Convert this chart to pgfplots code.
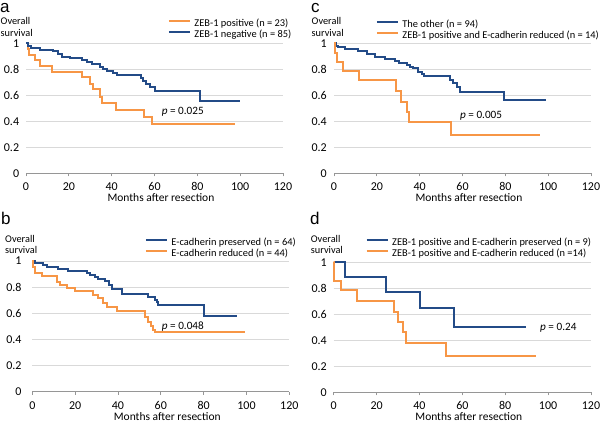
\documentclass[border=0pt]{standalone}
\usepackage{fontspec}
\setmainfont{Carlito}
\newfontfamily\arialfont{Liberation Sans}
\usepackage{pgfplots}
\pgfplotsset{compat=1.18}
\definecolor{kmorange}{RGB}{247,150,70}
\definecolor{kmblue}{RGB}{35,75,135}
\definecolor{gridgray}{RGB}{217,217,217}
\definecolor{axgray}{RGB}{150,150,150}
\pgfplotsset{
 kmaxis/.style={
  scale only axis, width=257bp, height=130bp, anchor=south west,
  xmin=0,xmax=120,ymin=0,ymax=1,
  axis x line*=bottom, axis y line*=left,
  y axis line style={draw=none},
  x axis line style={axgray, line width=0.8bp},
  xtick={0,20,40,60,80,100,120}, ytick={0,0.2,0.4,0.6,0.8,1},
  xtick align=outside, ytick align=inside,
  xtick style={axgray, line width=0.8bp},
  major tick length=3bp,
  ytick style={draw=none},
  ymajorgrids, grid style={gridgray, line width=0.8bp},
  /pgf/number format/assume math mode=true,
  ticklabel style={font=\fontsize{12bp}{14bp}\selectfont},
  xticklabel style={anchor=base, inner sep=0pt, yshift=-14.3bp},
  yticklabel style={anchor=east, inner sep=0pt},
  xlabel={Months after resection},
  xlabel style={at={(rel axis cs:0.525,0)}, anchor=base, yshift=-28.3bp, inner sep=0pt, font=\fontsize{11.5bp}{14bp}\selectfont},
  clip=false,
  legend cell align=left,
  legend style={draw=none, fill=none, inner sep=0pt, outer sep=0pt, row sep=1.6bp, column sep=3.5bp, anchor=north west,
    font=\fontsize{10.4bp}{12bp}\selectfont, nodes={inner sep=0pt, text height=7.5bp, text depth=2.5bp}},
  legend image code/.code={\draw[#1, line width=2bp] (0bp,3bp) -- (21bp,3bp);},
  every axis plot/.append style={const plot, line width=2bp, mark=none},
 }
}
\begin{document}
\begin{tikzpicture}
\useasboundingbox (0,0) rectangle (600bp,422bp);
% ---------------- panel a
\begin{axis}[kmaxis, at={(26bp,248.7bp)},
  yticklabel style={xshift=-6.7bp},
  legend style={at={(rel axis cs:0.5525,1.188)}}]
\addplot[kmorange] coordinates {(0,1)(0.8,0.957)(1.6,0.913)(4.2,0.870)(6.5,0.826)(12.3,0.783)(26,0.739)(29.9,0.69)(31.4,0.646)(34.5,0.59)(35.3,0.538)(42,0.49)(55.1,0.436)(58.7,0.38)(97.6,0.38)};
\addlegendentry{ZEB-1 positive (n = 23)}
\addplot[kmblue] coordinates {(0,1)(1.1,0.976)(2.2,0.964)(6.5,0.952)(12.8,0.941)(15.1,0.915)(16.7,0.897)(20.5,0.885)(26,0.872)(28.3,0.859)(30.7,0.838)(34.5,0.82)(36.1,0.80)(37.7,0.787)(40.8,0.77)(42.3,0.756)(53.5,0.73)(54.5,0.71)(56,0.69)(58,0.665)(60,0.636)(81.2,0.553)(99.9,0.553)};
\addlegendentry{ZEB-1 negative (n = 85)}
\node[anchor=base west, inner sep=0pt, font=\fontsize{11.2bp}{13bp}\selectfont] at (axis cs:63.3,0.454) {\textit{p} = 0.025};
\end{axis}
% ---------------- panel c
\begin{axis}[kmaxis, at={(334bp,248.7bp)},
  yticklabel style={xshift=-7bp},
  legend style={at={(rel axis cs:0.163,1.183)}}]
\addplot[kmblue] coordinates {(0,1)(1,0.979)(1.7,0.968)(5.1,0.955)(11.4,0.94)(15.3,0.915)(19.1,0.897)(23.8,0.88)(28.5,0.86)(30.5,0.852)(32.4,0.846)(34,0.833)(35.5,0.82)(37,0.81)(39.4,0.78)(40.9,0.76)(42,0.749)(54.2,0.718)(55.7,0.692)(57.3,0.662)(58.8,0.628)(79.6,0.566)(99,0.566)};
\addlegendentry{The other (n = 94)}
\addplot[kmorange] coordinates {(0,1)(0.5,0.929)(1.2,0.857)(4.4,0.786)(11.7,0.714)(28.8,0.63)(31.3,0.55)(33.9,0.472)(35,0.393)(54.4,0.295)(96,0.295)};
\addlegendentry{ZEB-1 positive and E-cadherin reduced (n = 14)}
\node[anchor=base west, inner sep=0pt, font=\fontsize{11.2bp}{13bp}\selectfont] at (axis cs:58.8,0.423) {\textit{p} = 0.005};
\end{axis}
% ---------------- panel b
\begin{axis}[kmaxis, at={(32.3bp,30.3bp)}, height=130.7bp,
  yticklabel style={xshift=-10.6bp},
  legend style={at={(rel axis cs:0.4385,1.178)}}]
\addplot[kmblue] coordinates {(0,1)(1.2,0.987)(5.1,0.97)(6.7,0.955)(12.1,0.942)(16.8,0.925)(25.4,0.905)(26.9,0.89)(29.3,0.875)(30.5,0.862)(33.9,0.846)(35.8,0.815)(37,0.785)(41.7,0.747)(54,0.727)(57.3,0.705)(58.1,0.689)(58.8,0.663)(80.3,0.579)(95.7,0.579)};
\addlegendentry{E-cadherin preserved (n = 64)}
\addplot[kmorange] coordinates {(0,1)(0.5,0.955)(1.3,0.91)(4.4,0.888)(11.4,0.842)(13,0.815)(16,0.795)(19.9,0.77)(28.5,0.74)(30.8,0.714)(33.2,0.676)(34.7,0.648)(39.4,0.62)(52.6,0.574)(53.8,0.536)(55.5,0.5)(56.5,0.474)(57.5,0.454)(99.3,0.454)};
\addlegendentry{E-cadherin reduced (n = 44)}
\node[anchor=base west, inner sep=0pt, font=\fontsize{11.2bp}{13bp}\selectfont] at (axis cs:60.4,0.477) {\textit{p} = 0.048};
\end{axis}
% ---------------- panel d
\begin{axis}[kmaxis, at={(333.7bp,29.7bp)}, width=257.3bp,
  yticklabel style={xshift=-6.7bp},
  legend style={at={(rel axis cs:0.1244,1.188)}}]
\addplot[kmblue] coordinates {(0,1)(5.3,0.889)(24.3,0.774)(40.1,0.645)(56,0.505)(89.7,0.505)};
\addlegendentry{ZEB-1 positive and E-cadherin preserved (n = 9)}
\addplot[kmorange] coordinates {(0,1)(0.3,0.857)(3.4,0.786)(11,0.705)(28.3,0.62)(29.8,0.543)(32.5,0.466)(33.7,0.377)(52.2,0.283)(94.3,0.283)};
\addlegendentry{ZEB-1 positive and E-cadherin reduced (n =14)}
\node[anchor=base west, inner sep=0pt, font=\fontsize{11.2bp}{13bp}\selectfont] at (axis cs:96.2,0.474) {\textit{p} = 0.24};
\end{axis}
% ---------------- labels
\begin{scope}[every node/.style={inner sep=0pt, anchor=base west}]
\node[font=\arialfont\fontsize{17bp}{19bp}\selectfont] at (0bp,409.5bp) {a};
\node[font=\arialfont\fontsize{17bp}{19bp}\selectfont] at (311bp,409.5bp) {c};
\node[font=\arialfont\fontsize{17bp}{19bp}\selectfont] at (1bp,197bp) {b};
\node[font=\arialfont\fontsize{17bp}{19bp}\selectfont] at (310bp,197bp) {d};
\node[font=\fontsize{10.3bp}{12bp}\selectfont] at (0.5bp,397bp) {Overall};
\node[font=\fontsize{10.3bp}{12bp}\selectfont] at (0.5bp,385.3bp) {survival};
\node[font=\fontsize{10.3bp}{12bp}\selectfont] at (311.5bp,397bp) {Overall};
\node[font=\fontsize{10.3bp}{12bp}\selectfont] at (311.5bp,385.3bp) {survival};
\node[font=\fontsize{10.3bp}{12bp}\selectfont] at (5bp,179.7bp) {Overall};
\node[font=\fontsize{10.3bp}{12bp}\selectfont] at (5bp,168bp) {survival};
\node[font=\fontsize{10.3bp}{12bp}\selectfont] at (310.7bp,179.7bp) {Overall};
\node[font=\fontsize{10.3bp}{12bp}\selectfont] at (310.7bp,168bp) {survival};
\end{scope}
\end{tikzpicture}
\end{document}
